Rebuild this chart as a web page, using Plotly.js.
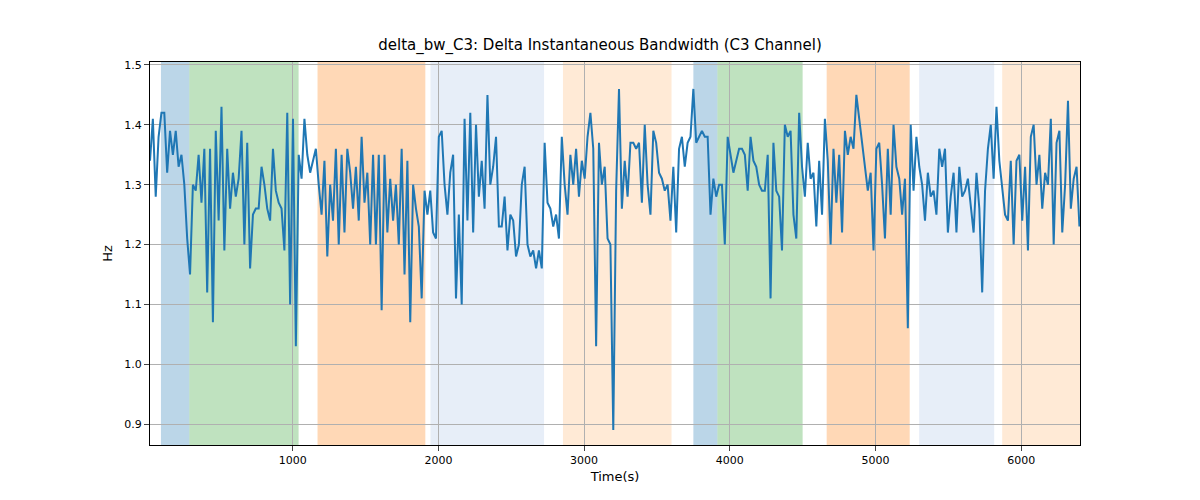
<!DOCTYPE html>
<html><head><script src="https://cdn.plot.ly/plotly-3.0.1.min.js"></script>
<style>body{margin:0}</style></head><body><div id="c" style="width:1200px;height:500px"></div>
<script>
const tStart = 20, tEnd = 6400;
const values = [
1.34,1.41,1.28,1.38,1.42,1.42,1.32,1.39,1.35,1.39,1.33,1.35,1.30,1.21,1.15,1.30,1.29,1.35,1.27,1.36,1.12,1.36,1.07,1.39,1.24,1.43,1.19,1.36,1.26,1.32,1.28,1.31,1.39,1.20,1.37,1.16,1.25,1.26,1.26,1.33,1.30,1.26,1.24,1.36,1.29,1.27,1.26,1.19,1.42,1.10,1.41,
1.03,1.35,1.31,1.41,1.35,1.32,1.34,1.36,1.30,1.25,1.34,1.18,1.30,1.24,1.36,1.20,1.35,1.22,1.36,1.32,1.26,1.33,1.24,1.38,1.27,1.32,1.20,1.35,1.20,1.35,1.09,1.35,1.22,1.31,1.24,1.30,1.20,1.36,1.15,1.34,1.07,1.30,1.26,1.23,1.11,1.29,1.25,1.29,1.22,1.21,1.38,
1.39,1.30,1.25,1.32,1.35,1.11,1.25,1.10,1.41,1.24,1.42,1.22,1.40,1.28,1.34,1.26,1.45,1.30,1.33,1.38,1.23,1.23,1.28,1.19,1.25,1.24,1.18,1.20,1.30,1.33,1.20,1.18,1.19,1.16,1.19,1.16,1.37,1.27,1.26,1.23,1.25,1.21,1.38,1.30,1.25,1.35,1.30,1.36,1.28,1.34,1.31,
1.38,1.42,1.36,1.03,1.37,1.30,1.33,1.21,1.20,0.89,1.29,1.46,1.26,1.34,1.28,1.37,1.37,1.36,1.37,1.27,1.40,1.30,1.25,1.39,1.37,1.32,1.31,1.29,1.30,1.24,1.33,1.22,1.36,1.38,1.33,1.37,1.38,1.46,1.37,1.38,1.39,1.38,1.38,1.25,1.31,1.28,1.30,1.30,1.20,1.38,1.35,
1.32,1.34,1.36,1.36,1.35,1.29,1.38,1.34,1.33,1.30,1.29,1.29,1.35,1.11,1.37,1.29,1.28,1.19,1.40,1.38,1.39,1.25,1.21,1.42,1.33,1.28,1.37,1.31,1.32,1.23,1.34,1.25,1.41,1.34,1.20,1.36,1.27,1.35,1.22,1.39,1.35,1.38,1.36,1.45,1.41,1.38,1.33,1.29,1.32,1.19,1.36,
1.37,1.30,1.21,1.36,1.25,1.40,1.33,1.31,1.25,1.31,1.06,1.40,1.29,1.38,1.33,1.30,1.24,1.32,1.28,1.29,1.25,1.36,1.33,1.36,1.22,1.28,1.32,1.22,1.33,1.28,1.29,1.31,1.27,1.22,1.32,1.26,1.12,1.29,1.36,1.40,1.31,1.43,1.34,1.30,1.25,1.24,1.34,1.20,1.34,1.35,1.24,
1.33,1.19,1.38,1.40,1.30,1.35,1.26,1.32,1.30,1.41,1.20,1.37,1.39,1.22,1.30,1.44,1.26,1.31,1.33,1.23];
const times = values.map((v,i)=>tStart + i*(tEnd-tStart)/(values.length-1));
const bandStarts = [95,290,1170,1945,2855,3750,3915,4665,5300,5870];
const bandEnds   = [290,1040,1910,2725,3600,3915,4500,5235,5815,6404];
const bandColors = ['rgba(31,119,180,0.3)','rgba(44,160,44,0.3)','rgba(255,127,14,0.3)','rgba(174,199,232,0.3)','rgba(255,187,120,0.3)',
                    'rgba(31,119,180,0.3)','rgba(44,160,44,0.3)','rgba(255,127,14,0.3)','rgba(174,199,232,0.3)','rgba(255,187,120,0.3)'];
const shapes = bandStarts.map((s,i)=>({type:'rect',xref:'x',yref:'paper',x0:s,x1:bandEnds[i],y0:0,y1:1,fillcolor:bandColors[i],line:{width:0},layer:'below'}));
Plotly.newPlot('c',[{x:times,y:values,type:'scatter',mode:'lines',line:{color:'#1f77b4',width:2}}],{
  width:1200,height:500,margin:{l:150,r:120,t:62,b:55},
  paper_bgcolor:'white',plot_bgcolor:'rgba(0,0,0,0)',
  font:{family:'DejaVu Sans',size:11,color:'#000'},
  title:{text:'delta_bw_C3: Delta Instantaneous Bandwidth (C3 Channel)',x:0.5,y:0.91,xanchor:'center',yanchor:'middle',font:{size:15}},
  xaxis:{range:[20,6404],tickvals:[1000,2000,3000,4000,5000,6000],showgrid:true,gridcolor:'#b0b0b0',zeroline:false,showline:true,mirror:true,linecolor:'#000',ticks:'outside',title:{text:'Time(s)',standoff:5}},
  yaxis:{range:[0.865,1.505],tickvals:[0.9,1.0,1.1,1.2,1.3,1.4,1.5],ticktext:['0.9','1.0','1.1','1.2','1.3','1.4','1.5'],showgrid:true,gridcolor:'#b0b0b0',zeroline:false,showline:true,mirror:true,linecolor:'#000',ticks:'outside',title:{text:'Hz',standoff:8}},
  shapes:shapes,showlegend:false
},{displayModeBar:false});
</script></body></html>
